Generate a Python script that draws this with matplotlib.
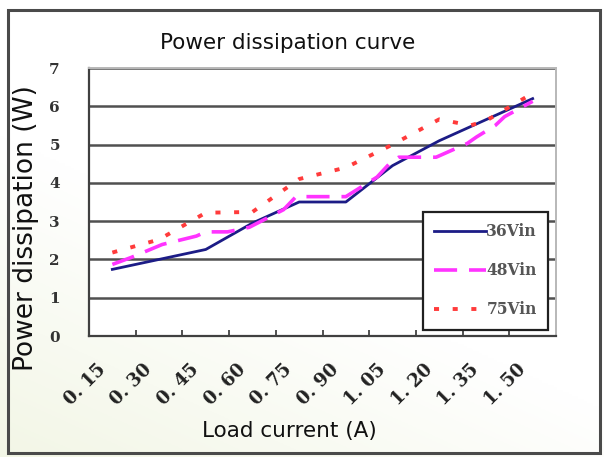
import matplotlib
matplotlib.use("Agg")
import matplotlib.pyplot as plt
import numpy as np
from matplotlib.patches import Rectangle
from matplotlib.transforms import ScaledTranslation

# ---- data ----
x_labels = ["0. 15", "0. 30", "0. 45", "0. 60", "0. 75", "0. 90", "1. 05", "1. 20", "1. 35", "1. 50"]
x_label_pos = [0.15, 0.30, 0.45, 0.60, 0.75, 0.90, 1.05, 1.20, 1.35, 1.50]

x36 = [0.15, 0.45, 0.60, 0.75, 0.90, 1.05, 1.20, 1.35, 1.50]
y36 = [1.74, 2.26, 2.95, 3.50, 3.50, 4.45, 5.10, 5.65, 6.20]

x48 = [0.15, 0.21, 0.31, 0.42, 0.45, 0.52, 0.59, 0.70, 0.74, 0.90, 1.00, 1.04, 1.07, 1.19, 1.29, 1.32, 1.38, 1.41, 1.50]
y48 = [1.87, 2.05, 2.39, 2.61, 2.72, 2.72, 2.84, 3.30, 3.64, 3.64, 4.15, 4.50, 4.67, 4.67, 5.03, 5.20, 5.50, 5.73, 6.13]

x75 = [0.15, 0.30, 0.45, 0.60, 0.75, 0.90, 1.05, 1.20, 1.30, 1.35, 1.50]
y75 = [2.18, 2.52, 3.22, 3.24, 4.10, 4.40, 5.00, 5.66, 5.50, 5.62, 6.34]

series_names = ["36Vin", "48Vin", "75Vin"]
y_ticks = [0, 1, 2, 3, 4, 5, 6, 7]

W, H = 604, 457
fig = plt.figure(figsize=(W / 100, H / 100), dpi=100)
fig.patch.set_facecolor("white")

# subtle background gradient (white -> pale yellow-green at bottom-left)
bg = fig.add_axes([0, 0, 1, 1], zorder=-10)
gx = np.linspace(0, 1, 200)
gy = np.linspace(0, 1, 200)
GX, GY = np.meshgrid(gx, gy)
t = np.clip((1 - GX) * 0.6 + GY * 1.0 - 0.9, 0, 1)
top_c = np.array([1.0, 1.0, 1.0])
bot_c = np.array([0.93, 0.95, 0.86])
img = top_c[None, None, :] * (1 - t[..., None]) + bot_c[None, None, :] * t[..., None]
bg.imshow(img, origin="upper", extent=[0, 1, 0, 1], aspect="auto")
bg.set_axis_off()

# outer frame
fig.patches.append(Rectangle((8 / W, 1 - 453 / H), (600 - 8) / W, (453 - 10) / H,
                             transform=fig.transFigure, fill=False,
                             edgecolor="#4a4a4a", lw=2.2, zorder=5))

left, right, top, bottom = 89, 556, 68, 336
ax = fig.add_axes([left / W, 1 - bottom / H, (right - left) / W, (bottom - top) / H])
ax.set_facecolor("white")

ax.plot(x36, y36, color="#1c1c86", lw=2.0, label=series_names[0], zorder=3)
ax.plot(x48, y48, color="#ff33ff", lw=2.6, dashes=(6.4, 3.3), label=series_names[1], zorder=4)
ax.plot(x75, y75, color="#ff3b3b", lw=2.8, dashes=(1.3, 3.5), label=series_names[2], zorder=5)

ax.set_xlim(0.075, 1.575)
ax.set_ylim(0, 7)
ax.set_yticks(y_ticks)
ax.grid(axis="y", color="#505050", lw=1.8, zorder=1)
ax.set_axisbelow(True)

ax.set_xticks(x_label_pos)
ax.set_xticklabels(x_labels, rotation=45, ha="right", va="center", rotation_mode="anchor",
                   fontfamily="DejaVu Serif", fontweight="bold", fontsize=13, color="#222222")
ax.set_xticks([p + 0.075 for p in x_label_pos[:-1]], minor=True)
ax.tick_params(axis="x", which="major", length=0, pad=22)
ax.tick_params(axis="x", which="minor", direction="in", length=4, width=1.2, color="#333333")
for lab in ax.get_xticklabels():
    lab.set_transform(lab.get_transform() + ScaledTranslation(-7 / 72, 0, fig.dpi_scale_trans))

ax.set_yticklabels([str(v) for v in y_ticks], fontfamily="DejaVu Serif",
                   fontweight="bold", fontsize=11, color="#333333")
ax.tick_params(axis="y", length=0, pad=21)

for s in ["left", "bottom"]:
    ax.spines[s].set_color("#404040")
    ax.spines[s].set_linewidth(1.6)
for s in ["top", "right"]:
    ax.spines[s].set_color("#b8b8b8")
    ax.spines[s].set_linewidth(1.4)

leg = ax.legend(loc="upper left", bbox_to_anchor=((423 - left) / (right - left), 1 - (212 - top) / (bottom - top)),
                prop={"family": "DejaVu Serif", "weight": "bold", "size": 11.2},
                frameon=True, fancybox=False, handlelength=3.3, handletextpad=0.05,
                labelspacing=1.42, borderpad=0.72, borderaxespad=0, framealpha=1)
leg.get_frame().set_edgecolor("#202020")
leg.get_frame().set_linewidth(1.6)
for txt in leg.get_texts():
    txt.set_color("#555555")

fig.text(288 / W, 1 - 43 / H, "Power dissipation curve", ha="center", va="center",
         fontsize=15.5, family="DejaVu Sans", color="#111111")
fig.text(289 / W, 1 - 431 / H, "Load current (A)", ha="center", va="center",
         fontsize=15.5, family="DejaVu Sans", color="#111111")
fig.text(26 / W, 1 - 228 / H, "Power dissipation (W)", ha="center", va="center",
         rotation=90, fontsize=19, family="DejaVu Sans", color="#111111")

fig.savefig("out.png", dpi=100)
